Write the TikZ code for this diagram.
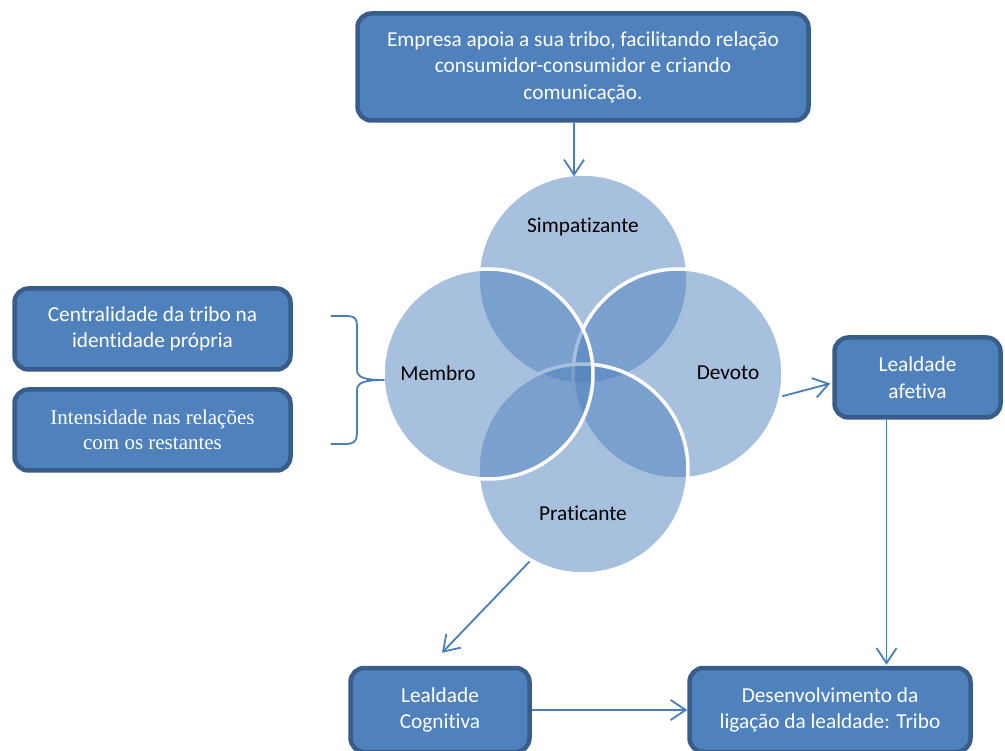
\documentclass[tikz,border=0pt]{standalone}
\usepackage{fontspec}
\setmainfont{Carlito}[Ligatures=NoCommon]
\newfontfamily\timesfont{Liberation Serif}
\usetikzlibrary{arrows.meta,calc}

\definecolor{boxfill}{HTML}{4F81BD}
\definecolor{boxline}{HTML}{385D8A}
\definecolor{linkcol}{HTML}{4A7EBB}

\tikzset{
  txt/.style={font=\fontsize{21.3}{26.5}\selectfont},
  bluebox/.style={txt, rectangle, rounded corners=14pt, fill=boxfill, draw=boxline,
    line width=4.5pt, text=white, align=center, inner sep=0pt},
  ring/.style={circle, minimum size=210pt, inner sep=0pt, fill=boxfill,
    fill opacity=0.5, draw=white, draw opacity=1, line width=3.5pt},
  ringlabel/.style={txt, text=black},
  arr/.style={draw=linkcol, line width=1.8pt,
    -{Straight Barb[length=15pt,width=20pt,line width=1.8pt]}},
  brace/.style={draw=linkcol, line width=1.8pt, line join=round}
}

\begin{document}
\begin{tikzpicture}[x=1pt,y=-1pt]
\useasboundingbox (0,0) rectangle (1005,751);

% text boxes
\node[bluebox, minimum width=451pt, minimum height=107pt] (top) at (583,67)
  {Empresa apoia a sua tribo, facilitando relação\\consumidor-consumidor e criando\\comunicação.};
\node[bluebox, minimum width=276pt, minimum height=81pt] (centr) at (152.5,329)
  {Centralidade da tribo na\\identidade própria};
\node[bluebox, minimum width=276pt, minimum height=81pt, font=\timesfont\fontsize{21}{25}\selectfont] (inten) at (152.5,430)
  {Intensidade nas relações\\com os restantes};
\node[bluebox, minimum width=166pt, minimum height=80pt] (afet) at (917.5,377.5)
  {Lealdade\\afetiva};
\node[bluebox, minimum width=179pt, minimum height=84pt] (cogn) at (440,710)
  {Lealdade\\Cognitiva};
\node[bluebox, minimum width=281pt, minimum height=84pt] (desen) at (830,710)
  {Desenvolvimento da\\ligação da lealdade: Tribo};

% overlapping circles
\node[ring] (simp) at (583,279) {};
\node[ring] (devo) at (678,374) {};
\node[ring] (prat) at (583,469) {};
\node[ring] (memb) at (488,374) {};

\node[ringlabel] (lsimp) at (583,227) {Simpatizante};
\node[ringlabel] (ldevo) at (728,373) {Devoto};
\node[ringlabel] (lprat) at (583,513) {Praticante};
\node[ringlabel] (lmemb) at (438,373) {Membro};

% brace joining the two left boxes to the Membro circle
\coordinate (btop) at ($(centr.east)+(38,-13)$);
\coordinate (bbot) at ($(inten.east)+(38,14)$);
\coordinate (btip) at ($(memb.west)+(3,6)$);
\draw[brace] (btop) .. controls +(20,0) and (357,314) .. (357,326) -- (357,370)
  .. controls (357,378) and (366,380) .. (btip);
\draw[brace] (btip) .. controls (366,380) and (357,382) .. (357,390) -- (357,432)
  .. controls (357,446) and ($(bbot)+(20,0)$) .. (bbot);

% connectors
\draw[arr] ([xshift=-9pt]top.south) -- ([xshift=-9pt,yshift=-4pt]simp.north);
\draw[arr] (devo.-12) -- ($(afet.west)+(-2,6)$);
\draw[arr] (prat.240) -- ($(cogn.north)+(2,-13)$);
\draw[arr] ([xshift=-31pt]afet.south) -- ([xshift=-31pt,yshift=1pt]afet.south |- desen.north);
\draw[arr] (cogn.east) -- (desen.west);
\end{tikzpicture}
\end{document}
